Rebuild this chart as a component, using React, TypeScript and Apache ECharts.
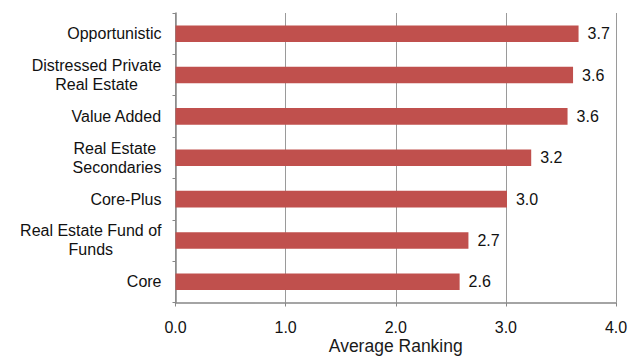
import React, { useEffect, useRef } from "react";
import * as echarts from "echarts";

const categories = [
  "Opportunistic",
  "Distressed Private\nReal Estate",
  "Value Added",
  "Real Estate \nSecondaries",
  "Core-Plus",
  "Real Estate Fund of\nFunds",
  "Core",
];
const averageRanking = [3.66, 3.61, 3.56, 3.23, 3.01, 2.66, 2.58];
const xTicks = [0, 1, 2, 3, 4];

const FONT = "'Liberation Sans', Arial, sans-serif";

export default function App() {
  const ref = useRef<HTMLDivElement>(null);
  useEffect(() => {
    if (!ref.current) return;
    const chart = echarts.init(ref.current, undefined, { renderer: "svg" });
    chart.setOption({
      animation: false,
      backgroundColor: "#ffffff",
      grid: {
        left: 175.5,
        right: 25,
        top: 13,
        bottom: 53.5,
        containLabel: false,
        outerBoundsMode: "none",
      },
      xAxis: {
        type: "value",
        min: xTicks[0],
        max: xTicks[xTicks.length - 1],
        interval: 1,
        name: "Average Ranking",
        nameLocation: "middle",
        nameGap: 34,
        nameMoveOverlap: false,
        nameTextStyle: {
          fontFamily: FONT,
          fontSize: 17.5,
          lineHeight: 18,
          color: "#1a1a1a",
        },
        axisLine: { show: true, lineStyle: { color: "#878787", width: 1.5 } },
        axisTick: { show: true, length: 4, lineStyle: { color: "#878787" } },
        axisLabel: {
          margin: 17,
          fontFamily: FONT,
          fontSize: 16,
          color: "#111111",
          formatter: (v: number) => v.toFixed(1),
        },
        splitLine: { show: true, lineStyle: { color: "#9a9a9a", width: 1 } },
      },
      yAxis: {
        type: "category",
        data: categories,
        inverse: true,
        axisLine: { show: true, lineStyle: { color: "#878787", width: 1.5 } },
        axisTick: { show: true, length: 3, lineStyle: { color: "#878787" } },
        axisLabel: {
          margin: 14,
          fontFamily: FONT,
          fontSize: 16,
          color: "#111111",
          align: "right",
          formatter: (v: string) =>
            v
              .split("\n")
              .map((s) => `{c|${s}}`)
              .join("\n"),
          rich: {
            c: {
              align: "center",
              fontFamily: FONT,
              fontSize: 16,
              lineHeight: 19,
              color: "#111111",
            },
          },
        },
        splitLine: { show: false },
      },
      series: [
        {
          type: "bar",
          data: averageRanking,
          barWidth: "40%",
          itemStyle: { color: "#C0504D" },
          label: {
            show: true,
            position: "right",
            distance: 9,
            fontFamily: FONT,
            fontSize: 16,
            color: "#111111",
            formatter: (p: any) => Number(p.value).toFixed(1),
          },
        },
      ],
    });
    return () => chart.dispose();
  }, []);
  return (
    <div
      ref={ref}
      style={{ position: "fixed", left: 0, top: 0, width: 641, height: 356 }}
    />
  );
}
